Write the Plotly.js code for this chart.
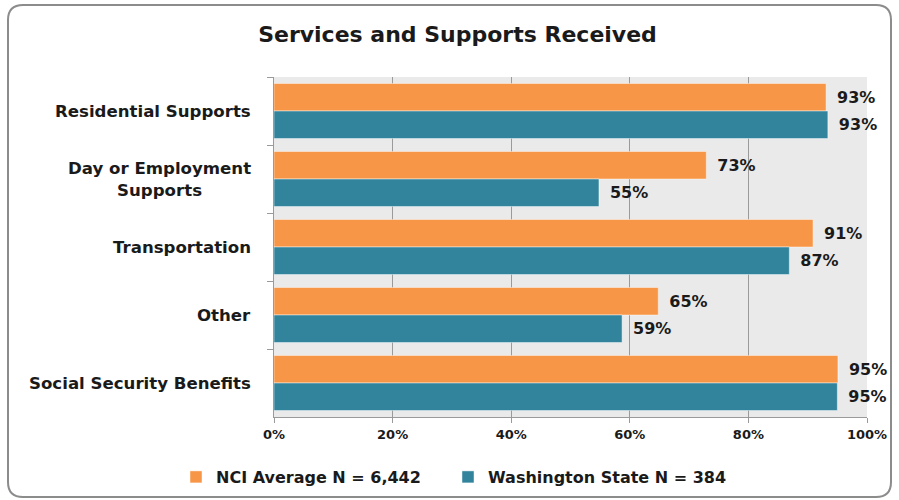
<!DOCTYPE html>
<html>
<head>
<meta charset="utf-8">
<script src="https://cdn.plot.ly/plotly-3.0.1.min.js"></script>
<style>
  html, body { margin: 0; padding: 0; background: #ffffff; }
  #chart { width: 899px; height: 500px; }
</style>
</head>
<body>
<div id="chart"></div>
<script>
// ---- data ----
const categories = [
  "Residential Supports",
  "Day or Employment<br>Supports",
  "Transportation",
  "Other",
  "Social Security Benefits"
];
const nciValues = [93.1, 72.9, 90.9, 64.8, 95.1];
const waValues  = [93.4, 54.8, 86.9, 58.7, 95.0];
const nciName = "NCI Average N = 6,442";
const waName  = "Washington State N = 384";
const xTickVals = [0, 20, 40, 60, 80, 100];
const xTickText = ["0%", "20%", "40%", "60%", "80%", "100%"];
const chartTitle = "Services and Supports Received";

// ---- styling ----
const FONT = "DejaVu Sans, Verdana, sans-serif";
const ORANGE = "#F79646";
const TEAL = "#31849B";
const TEXTCOL = "#1a1a1a";
const AXISCOL = "#9a9a9a";

const labelTemplate = "\u2002%{x:.0f}%";

const traces = [
  {
    type: "bar", orientation: "h", name: nciName, legend: "legend",
    y: categories, x: nciValues,
    marker: { color: ORANGE, line: { color: "rgba(255,255,255,0.45)", width: 1 } },
    texttemplate: labelTemplate, textposition: "outside",
    cliponaxis: false, constraintext: "none",
    textfont: { family: FONT, size: 16, color: TEXTCOL, weight: "bold" },
    hoverinfo: "x+y"
  },
  {
    type: "bar", orientation: "h", name: waName, legend: "legend2",
    y: categories, x: waValues,
    marker: { color: TEAL, line: { color: "rgba(255,255,255,0.45)", width: 1 } },
    texttemplate: labelTemplate, textposition: "outside",
    cliponaxis: false, constraintext: "none",
    textfont: { family: FONT, size: 16, color: TEXTCOL, weight: "bold" },
    hoverinfo: "x+y"
  }
];

// category labels drawn as centred multi-line annotations next to the axis
const catAnnotations = categories.map(c => ({
  xref: "paper", yref: "y", x: 0, y: c,
  xanchor: "right", yanchor: "middle", xshift: -21,
  align: "center", showarrow: false, text: c,
  font: { family: FONT, size: 16.6, color: TEXTCOL, weight: "bold" }
}));

// rounded outer frame (paper coordinates)
const L = 274, R = 32, T = 77, B = 83, W = 899, H = 500;
const pw = W - L - R, ph = H - T - B;
function px2x(px) { return (px - L) / pw; }
function py2y(py) { return (H - B - py) / ph; }
const fx0 = px2x(8), fx1 = px2x(891), fy1 = py2y(5), fy0 = py2y(497);
const rx = 15 / pw, ry = 15 / ph;
const framePath =
  `M ${fx0 + rx},${fy1} L ${fx1 - rx},${fy1} Q ${fx1},${fy1} ${fx1},${fy1 - ry} ` +
  `L ${fx1},${fy0 + ry} Q ${fx1},${fy0} ${fx1 - rx},${fy0} ` +
  `L ${fx0 + rx},${fy0} Q ${fx0},${fy0} ${fx0},${fy0 + ry} ` +
  `L ${fx0},${fy1 - ry} Q ${fx0},${fy1} ${fx0 + rx},${fy1} Z`;

function legendAt(leftPx) {
  return {
    orientation: "h",
    xref: "container", yref: "container",
    x: leftPx / W, xanchor: "left",
    y: 1 - 477 / H, yanchor: "middle",
    font: { family: FONT, size: 16, color: TEXTCOL, weight: "bold" },
    bgcolor: "rgba(0,0,0,0)"
  };
}

const layout = {
  width: W, height: H,
  margin: { l: L, r: R, t: T, b: B, pad: 0, autoexpand: false },
  paper_bgcolor: "#ffffff",
  plot_bgcolor: "#EAEAEA",
  barmode: "group",
  bargap: 0.19,
  bargroupgap: 0,
  font: { family: FONT, color: TEXTCOL },
  title: {
    text: chartTitle,
    font: { family: FONT, size: 22, color: TEXTCOL, weight: "bold" },
    xref: "container", yref: "container",
    x: 457.5 / W, xanchor: "center",
    y: 1 - 34 / H, yanchor: "middle"
  },
  xaxis: {
    range: [0, 100],
    tickvals: xTickVals, ticktext: xTickText,
    showgrid: true, gridcolor: AXISCOL, gridwidth: 1,
    zeroline: false,
    showline: true, linecolor: AXISCOL, linewidth: 1,
    ticks: "outside", ticklen: 5, tickcolor: AXISCOL,
    tickfont: { family: FONT, size: 13, color: TEXTCOL, weight: "bold" },
    fixedrange: true
  },
  yaxis: {
    type: "category",
    categoryorder: "array", categoryarray: categories,
    autorange: "reversed",
    showticklabels: false,
    tickson: "boundaries",
    ticks: "outside", ticklen: 6, tickcolor: AXISCOL,
    showgrid: false, zeroline: false,
    showline: true, linecolor: AXISCOL, linewidth: 1,
    fixedrange: true
  },
  showlegend: true,
  legend: legendAt(176),
  legend2: legendAt(448),
  annotations: catAnnotations,
  shapes: [{
    type: "path", xref: "paper", yref: "paper", layer: "above",
    path: framePath,
    line: { color: "#8c8c8c", width: 2 },
    fillcolor: "rgba(0,0,0,0)"
  }]
};

Plotly.newPlot("chart", traces, layout, { displayModeBar: false, staticPlot: true });
</script>
</body>
</html>
